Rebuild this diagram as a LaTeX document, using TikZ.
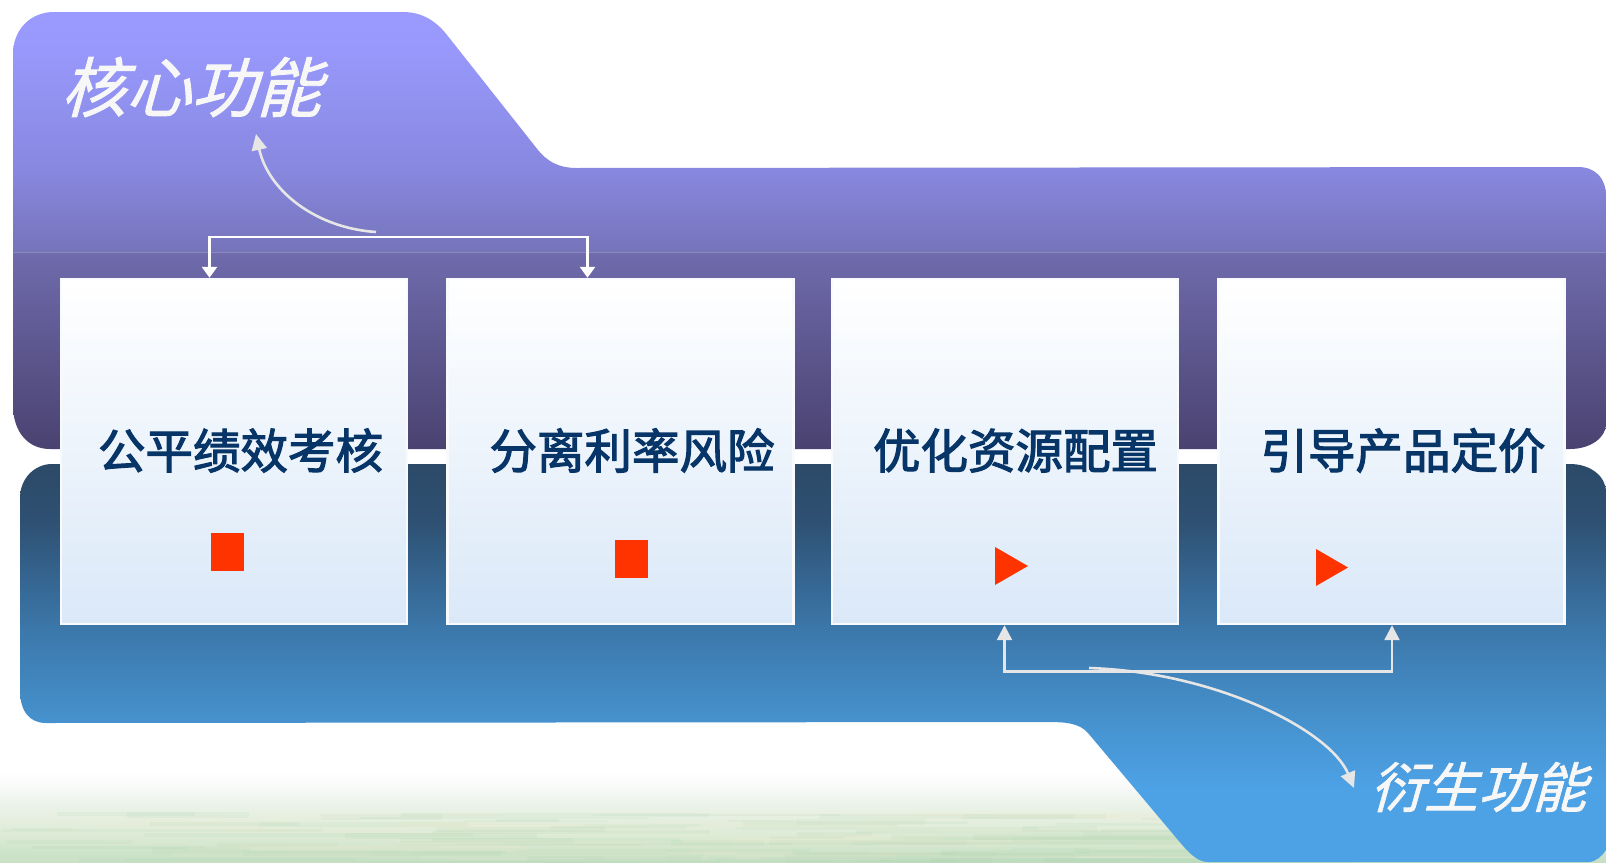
\documentclass[tikz,border=0pt]{standalone}
\usepackage{fontspec}
\usetikzlibrary{arrows.meta}
\newfontfamily\boxfont[FakeBold=2.4]{Noto Sans CJK SC}
\newfontfamily\slantfont[FakeSlant=0.28,FakeBold=1.4]{Noto Sans CJK SC}
\definecolor{tA}{HTML}{9A9AFF}\definecolor{tB}{HTML}{9898FC}\definecolor{tF}{HTML}{8888E0}\definecolor{tC}{HTML}{7674BA}\definecolor{tD}{HTML}{6F6BAC}\definecolor{tE}{HTML}{4A4270}
\definecolor{bA}{HTML}{2C4A68}\definecolor{bB}{HTML}{2E5072}\definecolor{bC}{HTML}{3B76A8}\definecolor{bD}{HTML}{4692CE}\definecolor{bE}{HTML}{4DA2E6}
\definecolor{gA}{HTML}{FFFFFF}\definecolor{gB}{HTML}{F6F8F6}\definecolor{gC}{HTML}{ECF3EA}\definecolor{gF}{HTML}{DFECD8}\definecolor{gD}{HTML}{C5DFC3}
\definecolor{streakA}{HTML}{F1EBD2}\definecolor{streakB}{HTML}{A9D2AC}
\definecolor{boxbot}{HTML}{DAE8F8}\definecolor{boxedge}{HTML}{F8FAFE}
\definecolor{boxtext}{HTML}{073567}\definecolor{redmark}{HTML}{FF3300}
\definecolor{linegrey}{HTML}{E6E6E6}
\pgfdeclareverticalshading{topsh}{100bp}{color(0bp)=(tE);color(25bp)=(tE);color(47.4bp)=(tD);color(47.65bp)=(tC);color(57.15bp)=(tF);color(70.6bp)=(tB);color(75bp)=(tA);color(100bp)=(tA)}
\pgfdeclareverticalshading{botsh}{100bp}{color(0bp)=(bE);color(25bp)=(bE);color(34bp)=(bE);color(42.6bp)=(bD);color(54.8bp)=(bC);color(68bp)=(bB);color(75bp)=(bA);color(100bp)=(bA)}
\pgfdeclareverticalshading{groundsh}{100bp}{color(0bp)=(gD);color(25bp)=(gD);color(41.7bp)=(gF);color(58.3bp)=(gC);color(65bp)=(gB);color(75bp)=(gA);color(100bp)=(gA)}
\tikzset{
  fbox/.style={draw=boxedge,line width=2.4pt,top color=white,bottom color=boxbot,minimum width=346pt,minimum height=345pt,inner sep=0pt},
  boxlabel/.style={text=boxtext,inner sep=0pt,font=\boxfont\fontsize{47.5}{47.5}\selectfont},
  sidelabel/.style={text=white!97!black,inner sep=0pt},
  bracketW/.style={draw=white,line width=2.4pt,-{Triangle[length=11pt,width=15pt]}},
  bracketG/.style={draw=linegrey,line width=2.4pt,-{Triangle[length=15pt,width=15pt]}},
  sweep/.style={draw=linegrey,line width=2.6pt,-{Triangle[length=16pt,width=15pt]}},
}
\begin{document}
\begin{tikzpicture}[x=1pt,y=-1pt]
\useasboundingbox (0,0) rectangle (1606,862);
\fill[white] (0,0) rectangle (1606,862);
% ground
\shade[shading=groundsh] (0,772) rectangle (1606,862);
\pgfmathsetseed{11}
\foreach \i in {1,...,150}{
  \pgfmathsetmacro\sx{rnd*1300}
  \pgfmathsetmacro\sw{60+rnd*300}
  \pgfmathsetmacro\sy{812+rnd*50}
  \pgfmathsetmacro\sh{2+rnd*4}
  \pgfmathtruncatemacro\sk{mod(\i,2)}
  \ifnum\sk=0\def\sc{streakA}\else\def\sc{streakB}\fi
  \fill[\sc,opacity=.13] (\sx,\sy) rectangle ++(\sw,\sh);
}
% top panel
\shade[shading=topsh] (13,54) .. controls (13,30) and (30,12) .. (54,12)
  -- (403,12) .. controls (422,12) and (436,21) .. (447,35)
  -- (538,150) .. controls (547,161) and (558,168) .. (577,168)
  -- (1578,167) .. controls (1595,167) and (1606,178) .. (1606,196)
  -- (1606,424) .. controls (1606,438) and (1590,449) .. (1570,449)
  -- (50,449) .. controls (28,449) and (13,432) .. (13,405) -- cycle;
\draw[white,opacity=.18,line width=.7pt] (13,252) -- (1606,252);
% bottom panel
\shade[shading=botsh] (20,498) .. controls (20,478) and (35,464) .. (52,464)
  -- (1570,464) .. controls (1590,464) and (1606,476) .. (1606,492)
  -- (1606,850) .. controls (1602,856) and (1596,862) .. (1588,862)
  -- (1208,862) .. controls (1197,862) and (1188,852) .. (1178,840)
  -- (1088,733) .. controls (1079,723) and (1066,722) .. (1047,722)
  -- (46,723) .. controls (30,723) and (20,712) .. (20,690) -- cycle;
% boxes
\node[fbox] (box1) at (234,451.5) {};
\node[fbox] (box2) at (620.5,451.5) {};
\node[fbox] (box3) at (1005,451.5) {};
\node[fbox] (box4) at (1391.5,451.5) {};
\node[boxlabel] (t1) at (240.5,450.5) {公平绩效考核};
\node[boxlabel] (t2) at (632,450.5) {分离利率风险};
\node[boxlabel] (t3) at (1015.5,450.5) {优化资源配置};
\node[boxlabel] (t4) at (1403,450.5) {引导产品定价};
% red marks
\fill[redmark] (211,533) rectangle (244,571);
\fill[redmark] (615,540) rectangle (648,578);
\fill[redmark] (995,547) -- (1028,566) -- (995,585) -- cycle;
\fill[redmark] (1316,549) -- (1348,567.5) -- (1316,586) -- cycle;
% side labels
\node[sidelabel,font=\slantfont\fontsize{65}{65}\selectfont] (core) at (191,87) {核心功能};
\node[sidelabel,font=\slantfont\fontsize{54}{54}\selectfont] (deriv) at (1478,787) {衍生功能};
% brackets
\coordinate (tl) at (209.5,237);
\coordinate (tr) at (587.5,237);
\draw[bracketW] (tr) -- (tl) -- (tl |- box1.north);
\draw[bracketW] (tl) -- (tr) -- (tr |- box2.north);
\coordinate (bl) at (1004.5,671.5);
\coordinate (br) at (1392,671.5);
\draw[bracketG] (br) -- (bl) -- (bl |- box3.south);
\draw[bracketG] (bl) -- (br) -- (br |- box4.south);
% sweeps
\coordinate (s1) at (376,232);
\coordinate (e1) at (256,134);
\draw[sweep] (s1) .. controls (315,228) and (268,190) .. (e1);
\coordinate (s2) at (1089,668);
\coordinate (e2) at (1354,788);
\draw[sweep] (s2) .. controls (1215,672) and (1330,730) .. (e2);
\end{tikzpicture}
\end{document}
